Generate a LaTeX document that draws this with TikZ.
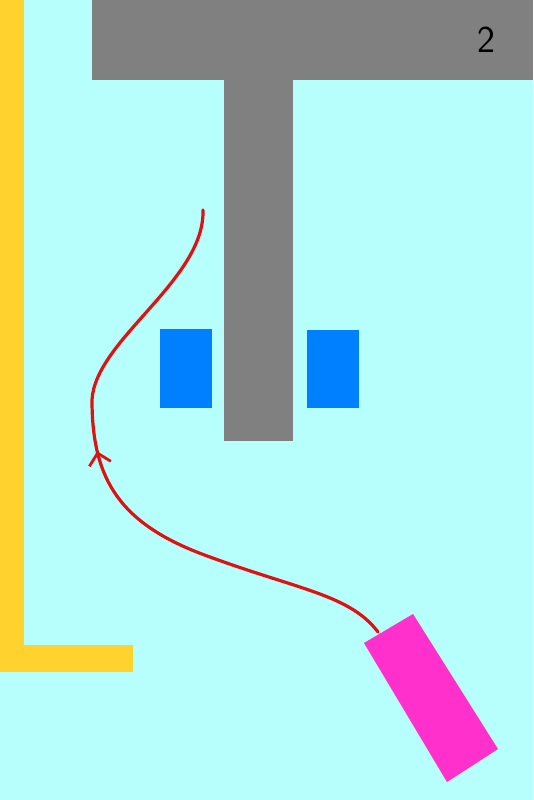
\documentclass[tikz,border=0pt]{standalone}
\usepackage{tikz}
\usetikzlibrary{arrows.meta, decorations.markings}
\definecolor{water}{RGB}{182,255,252}
\definecolor{wallyellow}{RGB}{255,210,46}
\definecolor{pillargray}{RGB}{128,128,128}
\definecolor{padblue}{RGB}{0,128,255}
\definecolor{bodypink}{RGB}{255,48,204}
\definecolor{pathred}{RGB}{222,18,18}
\tikzstyle{block}=[draw=none]
\tikzstyle{route}=[draw=pathred, line width=3.2pt, line cap=round,
  postaction={decorate},
  decoration={markings, mark=at position 0.558 with {\arrow[pathred, line width=2.8pt]{Straight Barb[length=11pt,width=22pt]}}}]
\newcommand{\block}[3]{\fill[block, #1] #2 rectangle #3;}

\begin{document}
\begin{tikzpicture}[x=1pt, y=-1pt]
            \useasboundingbox (0,0) rectangle (533,800);
            \fill[water] (0,0) rectangle (533,800);
            % wall on the left
            \block{wallyellow}{(0,0)}{(24,672)}
            \block{wallyellow}{(0,645)}{(133,672)}
            % gray T
            \block{pillargray}{(92,0)}{(533,80)}
            \block{pillargray}{(224,79)}{(293,441)}
            \node[font=\sffamily\fontsize{38}{40}\selectfont] (num) at (486,40) {2};
            % blue pads
            \block{padblue}{(160,329)}{(212,408)}
            \block{padblue}{(307,330)}{(359,408)}
            % pink body
            \fill[bodypink] (364,643) -- (413,614) -- (498,749) -- (447,782) -- cycle;
            \coordinate (start) at (378,632);
            \coordinate (bend) at (210,557);
            \coordinate (side) at (92,400);
            \coordinate (goal) at (203,210);
            \draw[route] (start) .. controls (350,595) and (300,590) .. (bend)
              .. controls (120,525) and (92,480) .. (side)
              .. controls (95,340) and (205,280) .. (goal);
        \end{tikzpicture}
\end{document}
